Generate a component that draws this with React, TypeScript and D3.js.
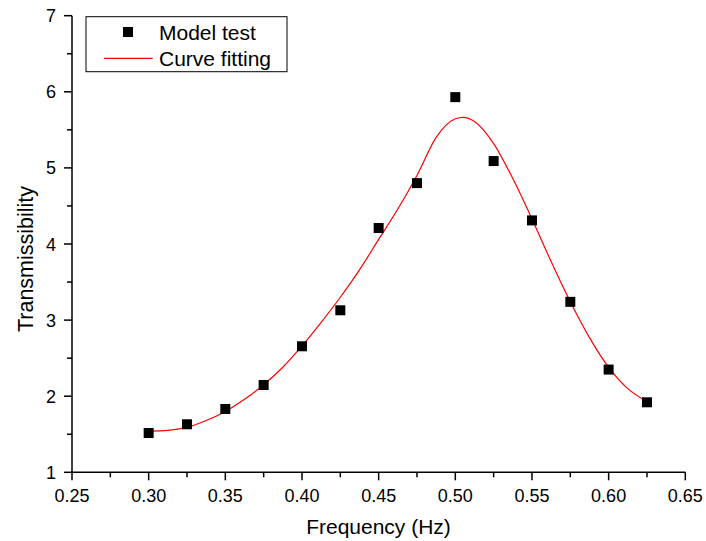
import React from "react";
import * as d3 from "d3";

const freqTest = [0.3, 0.325, 0.35, 0.375, 0.4, 0.425, 0.45, 0.475, 0.5, 0.525, 0.55, 0.575, 0.6, 0.625];
const transTest = [1.516, 1.631, 1.832, 2.147, 2.656, 3.129, 4.21, 4.8, 5.93, 5.09, 4.31, 3.24, 2.35, 1.92];

const freqFit = [0.3, 0.3125, 0.325, 0.3375, 0.35, 0.3625, 0.375, 0.3875, 0.4, 0.4125, 0.425, 0.4375, 0.45, 0.4625, 0.475, 0.4875, 0.5, 0.505, 0.5125, 0.525, 0.5375, 0.55, 0.5625, 0.575, 0.5875, 0.6, 0.6125, 0.625];
const transFit = [1.54, 1.55, 1.59, 1.68, 1.8, 1.96, 2.15, 2.38, 2.66, 2.97, 3.3, 3.66, 4.06, 4.46, 4.9, 5.4, 5.645, 5.665, 5.61, 5.32, 4.86, 4.33, 3.77, 3.24, 2.77, 2.38, 2.1, 1.93];

const xTicks = [0.25, 0.3, 0.35, 0.4, 0.45, 0.5, 0.55, 0.6, 0.65];
const xMinor = [0.275, 0.325, 0.375, 0.425, 0.475, 0.525, 0.575, 0.625];
const yTicks = [1, 2, 3, 4, 5, 6, 7];
const yMinor = [1.5, 2.5, 3.5, 4.5, 5.5, 6.5];

const legendLabels = ["Model test", "Curve fitting"];

const W = 706;
const H = 541;
const FONT = "'Liberation Sans', Arial, sans-serif";

export default function App() {
  const x = d3.scaleLinear().domain([0.25, 0.65]).range([72, 685.3]);
  const y = d3.scaleLinear().domain([1, 7]).range([472.3, 15.7]);
  const line = d3
    .line<number>()
    .x((_, i) => x(freqFit[i]))
    .y((d) => y(d))
    .curve(d3.curveMonotoneX);
  const x0 = x(0.25);
  const y0 = y(1);
  const ms = 10;

  return (
    <svg
      width={W}
      height={H}
      style={{ position: "absolute", left: 0, top: 0, background: "#fff" }}
      fontFamily={FONT}
    >
      <rect x={0} y={0} width={W} height={H} fill="#fff" />
      {/* fitted curve */}
      <path d={line(transFit) || ""} fill="none" stroke="#ff0000" strokeWidth={1.2} />
      {/* data points */}
      {transTest.map((v, i) => (
        <rect
          key={i}
          x={x(freqTest[i]) - ms / 2}
          y={y(v) - ms / 2}
          width={ms}
          height={ms}
          fill="#000"
        />
      ))}
      {/* axes */}
      <line x1={x0} x2={x0} y1={y(7)} y2={y0 + 0.75} stroke="#000" strokeWidth={1.5} />
      <line x1={x0 - 0.75} x2={x(0.65)} y1={y0} y2={y0} stroke="#000" strokeWidth={1.5} />
      {xTicks.map((t) => (
        <g key={"xt" + t}>
          <line x1={x(t)} x2={x(t)} y1={y0} y2={y0 + 8} stroke="#000" strokeWidth={1.5} />
          <text x={x(t)} y={501.5} fontSize={18} textAnchor="middle" fill="#000">
            {t.toFixed(2)}
          </text>
        </g>
      ))}
      {xMinor.map((t) => (
        <line key={"xm" + t} x1={x(t)} x2={x(t)} y1={y0} y2={y0 + 5} stroke="#000" strokeWidth={1.5} />
      ))}
      {yTicks.map((t) => (
        <g key={"yt" + t}>
          <line x1={x0 - 8} x2={x0} y1={y(t)} y2={y(t)} stroke="#000" strokeWidth={1.5} />
          <text x={56} y={y(t) + 6.5} fontSize={18} textAnchor="end" fill="#000">
            {t}
          </text>
        </g>
      ))}
      {yMinor.map((t) => (
        <line key={"ym" + t} x1={x0 - 5} x2={x0} y1={y(t)} y2={y(t)} stroke="#000" strokeWidth={1.5} />
      ))}
      {/* axis titles */}
      <text x={378.5} y={534} fontSize={21} textAnchor="middle" fill="#000">
        Frequency (Hz)
      </text>
      <text
        transform={`translate(32.5, 259) rotate(-90)`}
        fontSize={21.5}
        textAnchor="middle"
        fill="#000"
      >
        Transmissibility
      </text>
      {/* legend */}
      <rect x={86} y={16.7} width={201} height={55} fill="#fff" stroke="#000" strokeWidth={1} />
      <rect x={128 - ms / 2} y={32 - ms / 2} width={ms} height={ms} fill="#000" />
      <text x={159} y={40} fontSize={21} fill="#000">
        {legendLabels[0]}
      </text>
      <line x1={104} x2={152.7} y1={58.3} y2={58.3} stroke="#ff0000" strokeWidth={1.2} />
      <text x={159} y={65.5} fontSize={21} fill="#000">
        {legendLabels[1]}
      </text>
    </svg>
  );
}
